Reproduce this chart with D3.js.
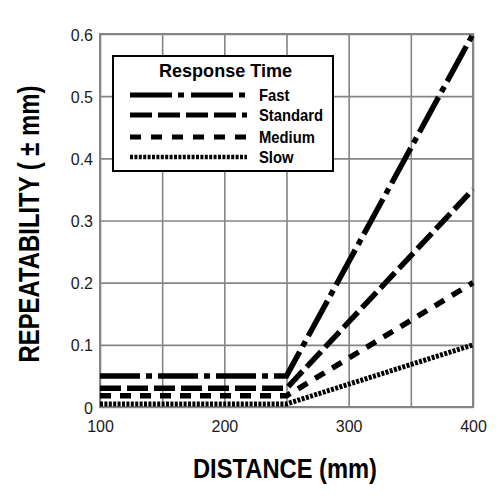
<!DOCTYPE html>
<html>
<head>
<meta charset="utf-8">
<script src="https://cdn.jsdelivr.net/npm/d3@7"></script>
<style>
  html, body { margin: 0; padding: 0; background: #fff; }
  svg { display: block; }
</style>
</head>
<body>
<svg id="chart" width="500" height="500"></svg>
<script>
// ---- data ----
const distances = [100, 250, 400];
const fast = [0.05, 0.05, 0.6];
const standard = [0.03, 0.03, 0.35];
const medium = [0.018, 0.018, 0.2];
const slow = [0.005, 0.005, 0.1];
const seriesNames = ["Fast", "Standard", "Medium", "Slow"];
const xTicks = [100, 150, 200, 250, 300, 350, 400];
const xTickLabels = [100, 200, 300, 400];
const yTicks = [0, 0.1, 0.2, 0.3, 0.4, 0.5, 0.6];
const legendTitle = "Response Time";
const xTitle = "DISTANCE (mm)";
const yTitle = "REPEATABILITY ( \u00b1 mm)";

// ---- styles ----
const chartDash = {
  Fast: "40,6,6,6",
  Standard: "21,6",
  Medium: "11,9",
  Slow: "3,1.4"
};
const legendDash = {
  Fast: "42,6,6,7",
  Standard: "22,6",
  Medium: "11,10",
  Slow: "3,1.4"
};

const svg = d3.select("#chart");
const margin = { left: 100, top: 34, right: 27, bottom: 93 };
const W = 500, H = 500;
const w = W - margin.left - margin.right;
const h = H - margin.top - margin.bottom;

const x = d3.scaleLinear().domain([100, 400]).range([0, w]);
const y = d3.scaleLinear().domain([0, 0.6]).range([h, 0]);

const g = svg.append("g").attr("transform", `translate(${margin.left},${margin.top})`);

const gridColor = "#858585";
const font = "'Liberation Sans', Arial, Helvetica, sans-serif";

// grid + y labels
const yAxis = g.append("g")
  .call(d3.axisLeft(y).tickValues(yTicks).tickSize(-w).tickPadding(7)
    .tickFormat(d => String(d)));
yAxis.select(".domain").remove();
yAxis.selectAll("line").attr("stroke", gridColor).attr("stroke-width", 1.6);
yAxis.selectAll("text").attr("font-family", font).attr("font-size", 16)
  .attr("fill", "#1a1a1a").attr("dy", "0.38em");

const xAxis = g.append("g").attr("transform", `translate(0,${h})`)
  .call(d3.axisBottom(x).tickValues(xTicks).tickSize(-h).tickPadding(14)
    .tickFormat(d => xTickLabels.includes(d) ? String(d) : ""));
xAxis.select(".domain").remove();
xAxis.selectAll("line").attr("stroke", gridColor).attr("stroke-width", 1.6);
xAxis.selectAll("text").attr("font-family", font).attr("font-size", 16)
  .attr("fill", "#1a1a1a");

// frame
g.append("rect").attr("x", 0).attr("y", 0).attr("width", w).attr("height", h)
  .attr("fill", "none").attr("stroke", gridColor).attr("stroke-width", 2);

// series
const seriesValues = { Fast: fast, Standard: standard, Medium: medium, Slow: slow };
const line = d3.line().x(d => x(d[0])).y(d => y(d[1]));
seriesNames.slice().reverse().forEach(name => {
  const pts = distances.map((d, i) => [d, seriesValues[name][i]]);
  g.append("path")
    .attr("d", line(pts))
    .attr("fill", "none")
    .attr("stroke", "#000")
    .attr("stroke-width", name === "Slow" ? 5 : 5.5)
    .attr("stroke-linecap", "butt")
    .attr("stroke-linejoin", "miter")
    .attr("stroke-dasharray", chartDash[name]);
});

// legend
const lg = svg.append("g");
lg.append("rect").attr("x", 113).attr("y", 56).attr("width", 220).attr("height", 115)
  .attr("fill", "#fff").attr("stroke", "#000").attr("stroke-width", 2);
lg.append("text").attr("x", 225.5).attr("y", 77).attr("text-anchor", "middle")
  .attr("font-family", font).attr("font-weight", "bold").attr("font-size", 19)
  .attr("textLength", 133).attr("lengthAdjust", "spacingAndGlyphs")
  .text(legendTitle);
const legendY = [95, 115, 137, 157];
seriesNames.forEach((name, i) => {
  lg.append("line").attr("x1", 130).attr("x2", 247)
    .attr("y1", legendY[i]).attr("y2", legendY[i])
    .attr("stroke", "#000").attr("stroke-width", name === "Slow" ? 4.5 : 5)
    .attr("stroke-dasharray", legendDash[name]);
  const t = lg.append("text").attr("x", 259).attr("y", legendY[i] + 6)
    .attr("font-family", font).attr("font-weight", "bold").attr("font-size", 17)
    .text(name);
  const len = t.node().getComputedTextLength();
  t.attr("textLength", len * 0.87).attr("lengthAdjust", "spacingAndGlyphs");
});

// axis titles
svg.append("text").attr("x", 285).attr("y", 478).attr("text-anchor", "middle")
  .attr("font-family", font).attr("font-weight", "bold").attr("font-size", 28)
  .attr("textLength", 184).attr("lengthAdjust", "spacingAndGlyphs")
  .text(xTitle);
svg.append("text")
  .attr("transform", "translate(39,224) rotate(-90)")
  .attr("text-anchor", "middle")
  .attr("font-family", font).attr("font-weight", "bold").attr("font-size", 30)
  .attr("textLength", 277).attr("lengthAdjust", "spacingAndGlyphs")
  .text(yTitle);
</script>
</body>
</html>
